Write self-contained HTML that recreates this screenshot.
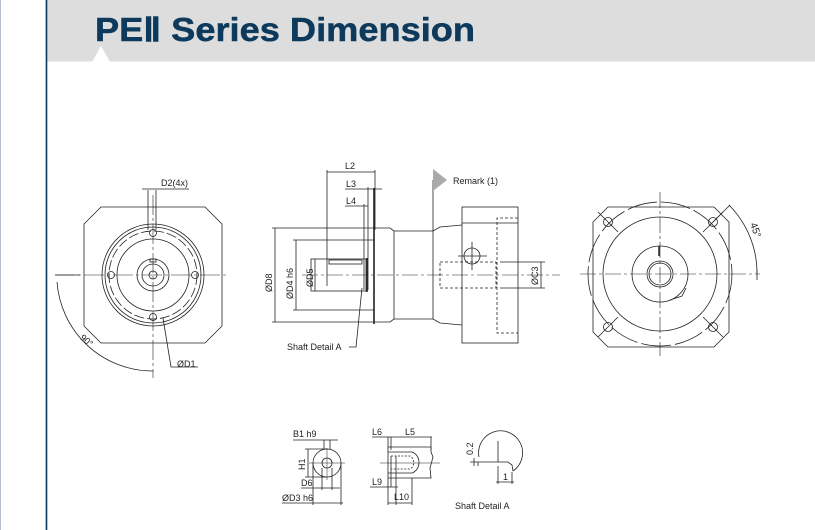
<!DOCTYPE html>
<html><head><meta charset="utf-8"><style>
html,body{margin:0;padding:0;background:#fff;}
body{width:815px;height:530px;position:relative;overflow:hidden;font-family:"Liberation Sans",sans-serif;}
</style></head><body>
<svg width="815" height="530" viewBox="0 0 815 530" xmlns="http://www.w3.org/2000/svg" style="position:absolute;left:0;top:0">
<rect x="0" y="0" width="1" height="530" fill="#b8c0cc"/>
<rect x="46" y="0" width="769" height="61" fill="#dddddd"/>
<rect x="46" y="61" width="769" height="1" fill="#eeeeee"/>
<polygon points="92,62 101,46 110,62" fill="#fff"/>
<rect x="45" y="0" width="1" height="530" fill="#b0b8c4"/>
<rect x="46" y="0" width="1.3" height="530" fill="#0d3a5c"/>
<text x="95" y="41" font-size="33" font-weight="bold" fill="#0d3a5c" font-family="Liberation Sans Narrow, Liberation Sans, sans-serif" textLength="380" lengthAdjust="spacingAndGlyphs" stroke="#0d3a5c" stroke-width="0.5">PEⅡ Series Dimension</text>

<g fill="none" stroke="#222" stroke-width="0.8">
<!-- LEFT VIEW -->
<polygon points="101,207 205,207 222,224 222,326 205,343 101,343 84,326 84,224"/>
<circle cx="153" cy="275" r="51"/>
<circle cx="153" cy="275" r="48"/>
<circle cx="153" cy="275" r="44" stroke-dasharray="10,3"/>
<circle cx="153" cy="275" r="36"/>
<circle cx="153" cy="275" r="16"/>
<circle cx="153" cy="275" r="11"/>
<circle cx="153" cy="275" r="4"/>
<rect x="150" y="259" width="6" height="3"/>
<circle cx="153" cy="233" r="3.5"/><circle cx="153" cy="317" r="3.5"/>
<circle cx="111" cy="275" r="3.5"/><circle cx="195" cy="275" r="3.5"/>
<line x1="55" y1="275" x2="226" y2="275" stroke-dasharray="20,3,3,3" stroke-width="0.6"/>
<line x1="153" y1="195" x2="153" y2="378" stroke-dasharray="20,3,3,3" stroke-width="0.6"/>
<line x1="55" y1="275" x2="80" y2="275"/>
<path d="M57,282 A96,96 0 0 0 153,371" />
<line x1="148" y1="190" x2="148" y2="230"/><line x1="156" y1="190" x2="156" y2="230"/>
<line x1="142" y1="189" x2="189" y2="189"/>
<polyline points="163,318 171,367 198,367"/>
<!-- MIDDLE VIEW -->
<line x1="327" y1="172" x2="375" y2="172"/>
<line x1="327" y1="170" x2="327" y2="286"/>
<line x1="375" y1="170" x2="375" y2="230"/>
<line x1="345" y1="189" x2="382" y2="189"/>
<line x1="368" y1="187" x2="368" y2="290"/>
<line x1="345" y1="206" x2="368" y2="206"/>
<line x1="364" y1="204" x2="364" y2="290"/>
<line x1="374" y1="188" x2="374" y2="324" stroke-width="1.6"/>
<polyline points="376,228 390,228 394,231 433,231 440,227 462,225"/>
<polyline points="376,322 390,322 394,319 433,319 440,323 462,325"/>
<line x1="394" y1="231" x2="394" y2="319"/>
<line x1="433" y1="180" x2="433" y2="319"/>
<rect x="462" y="207" width="56" height="136"/>
<line x1="462" y1="223" x2="518" y2="223"/>
<polyline points="518,218 497,218 497,333 518,333" stroke-dasharray="3,2"/>
<rect x="440" y="262" width="56" height="26" stroke-dasharray="3,2"/>
<circle cx="472" cy="256" r="8"/>
<line x1="458" y1="256" x2="487" y2="256"/><line x1="472" y1="242" x2="472" y2="270"/>
<line x1="500" y1="262" x2="545" y2="262"/><line x1="500" y1="288" x2="545" y2="288"/>
<line x1="541" y1="262" x2="541" y2="288"/>
<rect x="311" y="259" width="55" height="32"/>
<rect x="329" y="260" width="33" height="4"/>
<line x1="367" y1="258" x2="367" y2="292" stroke-width="1.6"/>
<line x1="293" y1="240" x2="374" y2="240"/><line x1="293" y1="310" x2="374" y2="310"/>
<line x1="296" y1="240" x2="296" y2="310"/>
<line x1="272" y1="228" x2="376" y2="228"/><line x1="272" y1="322" x2="376" y2="322"/>
<line x1="275" y1="228" x2="275" y2="322"/>
<line x1="315" y1="259" x2="315" y2="291"/>
<line x1="302" y1="275" x2="560" y2="275" stroke-dasharray="16,3,3,3" stroke-width="0.6"/>
<polyline points="349,347 356,347 362,288"/>
<!-- RIGHT VIEW -->
<polygon points="608,207 714,207 729,222 729,332 714,347 608,347 593,332 593,222"/>
<circle cx="660" cy="274" r="72" stroke-dasharray="30,4"/>
<circle cx="660" cy="274" r="57"/>
<circle cx="660" cy="274" r="28"/>
<polyline points="670,300 682,296 686,288"/>
<line x1="659" y1="246" x2="659" y2="256" stroke-width="1.5"/>
<circle cx="660" cy="274" r="13"/><circle cx="660" cy="274" r="11"/>
<line x1="580" y1="274" x2="760" y2="274" stroke-dasharray="16,3,3,3" stroke-width="0.6"/>
<line x1="660" y1="192" x2="660" y2="356" stroke-dasharray="16,3,3,3" stroke-width="0.6"/>
<circle cx="608" cy="222" r="4.5"/><circle cx="713" cy="222" r="4.5"/>
<circle cx="608" cy="327" r="4.5"/><circle cx="713" cy="327" r="4.5"/>
<line x1="598" y1="212" x2="618" y2="232"/><line x1="703" y1="232" x2="723" y2="212"/>
<line x1="598" y1="337" x2="618" y2="317"/><line x1="703" y1="317" x2="723" y2="337"/>
<line x1="713" y1="222" x2="730" y2="205"/>
<path d="M729,205 A97,97 0 0 1 757,274"/>
<line x1="757" y1="270" x2="757" y2="280"/>
<!-- BOTTOM 1 -->
<circle cx="327" cy="463" r="14"/>
<circle cx="327" cy="463" r="5"/>
<line x1="324" y1="440" x2="324" y2="449"/><line x1="330" y1="440" x2="330" y2="449"/>
<line x1="293" y1="440" x2="338" y2="440"/>
<line x1="305" y1="449" x2="327" y2="449"/><line x1="305" y1="477" x2="327" y2="477"/>
<line x1="308" y1="449" x2="308" y2="477"/>
<line x1="309" y1="463" x2="345" y2="463" stroke-width="0.5"/><line x1="327" y1="448" x2="327" y2="480" stroke-width="0.5"/>
<line x1="322" y1="468" x2="322" y2="490"/><line x1="332" y1="468" x2="332" y2="490"/>
<line x1="301" y1="488" x2="340" y2="488"/>
<line x1="313" y1="463" x2="313" y2="505"/><line x1="341" y1="463" x2="341" y2="505"/>
<line x1="282" y1="503" x2="343" y2="503"/>
<!-- BOTTOM 2 -->
<line x1="372" y1="437" x2="432" y2="437"/>
<line x1="388" y1="437" x2="388" y2="478"/>
<line x1="391" y1="437" x2="391" y2="450"/>
<line x1="431" y1="437" x2="431" y2="450"/>
<polyline points="388,447 431,447 431,452 433,457 430,468 431,478 388,478"/>
<path d="M388,452 L412,452 A10,11 0 0 1 412,473 L388,473"/>
<path d="M391,456 L410,456 A6,7 0 0 1 410,469 L391,469" stroke-dasharray="2,1.5"/>
<line x1="380" y1="463" x2="440" y2="463" stroke-width="0.5"/>
<line x1="391" y1="456" x2="391" y2="487"/><line x1="396" y1="456" x2="396" y2="505"/>
<line x1="388" y1="478" x2="388" y2="505"/>
<line x1="370" y1="487" x2="398" y2="487"/>
<line x1="388" y1="503" x2="412" y2="503"/><line x1="412" y1="478" x2="412" y2="505"/>
<!-- Shaft detail A -->
<path d="M479,457 A22,22 0 1 1 513,471"/>
<line x1="498" y1="441" x2="498" y2="462"/>
<polyline points="470,462 508,462 512,465 513,471"/>
<line x1="474" y1="458" x2="474" y2="466"/><line x1="478" y1="462" x2="478" y2="466"/>
<line x1="498" y1="466" x2="498" y2="484"/><line x1="512" y1="472" x2="512" y2="484"/>
<line x1="496" y1="482" x2="514" y2="482"/>
</g>
<polygon points="433,169 447,180 433,191" fill="#aaa"/>
<g font-family="Liberation Sans, sans-serif" font-size="9" fill="#222">
<text x="161" y="186">D2(4x)</text>
<text x="177" y="367">ØD1</text>
<text x="80" y="343" transform="rotate(40 86 340)">90°</text>
<text x="345" y="169">L2</text>
<text x="346" y="187">L3</text>
<text x="346" y="204">L4</text>
<text x="453" y="184">Remark (1)</text>
<text x="287" y="350">Shaft Detail  A</text>
<text transform="translate(272,292) rotate(-90)">ØD8</text>
<text transform="translate(293,299) rotate(-90)">ØD4 h6</text>
<text transform="translate(313,287) rotate(-90)">ØD5</text>
<text transform="translate(538,285) rotate(-90)">ØC3</text>
<text transform="translate(750,224) rotate(70)" font-size="10">45°</text>
<text x="293" y="437">B1 h9</text>
<text transform="translate(305,470) rotate(-90)">H1</text>
<text x="301" y="486">D6</text>
<text x="282" y="501">ØD3 h6</text>
<text x="372" y="435">L6</text>
<text x="405" y="435">L5</text>
<text x="372" y="485">L9</text>
<text x="394" y="500">L10</text>
<text transform="translate(473,455) rotate(-90)">0.2</text>
<text x="503" y="480">1</text>
<text x="455" y="509">Shaft  Detail  A</text>
</g>
</svg>
</body></html>
